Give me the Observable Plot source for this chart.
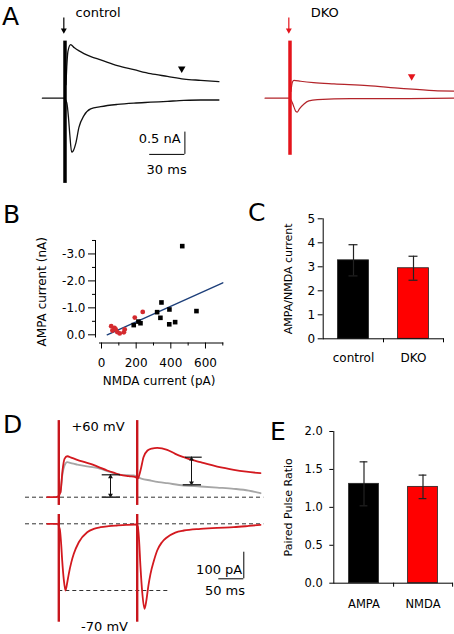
<!DOCTYPE html>
<html><head><meta charset="utf-8">
<script src="https://cdn.jsdelivr.net/npm/d3@7"></script>
<script src="https://cdn.jsdelivr.net/npm/@observablehq/plot@0.6"></script>
<style>
html,body{margin:0;padding:0;background:#fff;}
#fig{position:relative;width:454px;height:634px;overflow:hidden;background:#fff;font-family:"DejaVu Sans",sans-serif;color:#000;}
#fig svg{position:absolute;left:0;top:0;}
.panel{position:absolute;font-size:25px;line-height:1;color:#000;}
</style></head>
<body><div id="fig"></div>
<script>
// ================= DATA =================
// Panel letters
const panelLetters = ["A", "B", "C", "D", "E"];

// ---- Panel A (time in ms after stimulus, current in nA) ----
const aCtrlUpper = [[0.8,0.3],[1.5,0.7],[2.5,1.05],[4.8,1.2],[8,1.13],[12,1.06],[16.1,1.0],[22,0.93],[30.3,0.86],[44.5,0.73],[58.6,0.64],[72.8,0.55],[87,0.49],[101.1,0.43],[115.3,0.4],[130.8,0.37]];
const aCtrlLower = [[-19.2,0],[-10,0],[-1,0],[1.5,-0.1],[3,-0.45],[4,-0.79],[5.7,-1.21],[7,-1.18],[9.1,-1.02],[11.9,-0.65],[16.1,-0.39],[21.8,-0.24],[30.3,-0.19],[44.5,-0.14],[58.6,-0.11],[72.8,-0.09],[87,-0.07],[101.1,-0.05],[115.3,-0.04],[130.8,-0.04]];
const aDkoUpper = [[0.8,0.15],[2,0.36],[3.4,0.4],[9.1,0.38],[20,0.35],[37.4,0.32],[65.8,0.28],[94.1,0.22],[122.3,0.17],[139.3,0.16]];
const aDkoLower = [[-21.2,0],[-10,0],[-1,0],[2,-0.1],[3.4,-0.2],[5,-0.3],[6.2,-0.31],[8,-0.24],[11.9,-0.13],[16,-0.06],[23.3,-0.03],[51.6,-0.01],[94.1,-0.01],[139.3,0]];
const aStim = [{t: 0, top: 1.28, ctrlBottom: -1.91, dkoBottom: -1.28}];
const aArrow = [{t: -1, from: 1.8, to: 1.5}];
const aCtrlMarker = [{t: 99.2, i: 0.66}];
const aDkoMarker = [{t: 103.4, i: 0.49}];
const aScaleBar = [{t0: 72.0, t1: 101.9, i0: -0.76, i1: -1.26}];
const aLabels = [{t: 9.0, i: 1.83, s: "control"}];
const aDkoLabels = [{t: 17.6, i: 1.83, s: "DKO"}];
const aScaleAmp = [{t: 98.3, i: -1.01, s: "0.5 nA"}];
const aScaleTime = [{t: 86.4, i: -1.70, s: "30 ms"}];

// ---- Panel B (NMDA current pA, AMPA current nA) ----
const bControl = [[466,-3.29],[346,-1.2],[392,-0.94],[321,-0.84],[340,-0.63],[548,-0.88],[391,-0.39],[425,-0.47],[186,-0.36],[225,-0.43],[213,-0.49]];
const bDKO = [[238,-0.85],[192,-0.64],[56,-0.32],[75,-0.26],[63,-0.16],[91,-0.1],[129,-0.09],[134,-0.2],[82,-0.2],[105,-0.05]];
const bFit = [[33,0.0],[700,-1.93]];
const bYTicks = [0, -1, -2, -3];
const bYTickLabels = ["0.0", "-1.0", "-2.0", "-3.0"];
const bYMinor = [-0.5, -1.5, -2.5, -3.5];
const bXTicks = [0, 200, 400, 600];
const bXTickLabels = ["0", "200", "400", "600"];
const bXMinor = [100, 300, 500, 700];
const bXTitle = "NMDA current (pA)";
const bYTitle = "AMPA current (nA)";

// ---- Panel C (AMPA/NMDA ratio) ----
const cGroups = ["control", "DKO"];
const cMeans = [3.27, 2.94];
const cErrors = [0.65, 0.5];
const cColors = ["#000000", "#ff0000"];
const cYTicks = [0, 1, 2, 3, 4, 5];
const cYTitle = "AMPA/NMDA current";

// ---- Panel D (time in ms after first stimulus, current in pA) ----
const dRed = [[-23.2,0],[-6,0],[-2,2],[3.4,18.8],[7.4,100],[11.4,144],[16.8,154],[26,148],[36.8,140.6],[50,133],[63.4,125.6],[80,113],[96.8,100.4],[110,92],[123.4,84.2],[140,79],[153.4,75.2],[158,70],[163.4,100.4],[169.4,150],[177.4,175.6],[186,183],[196.8,185.7],[216.8,178.2],[233,163],[250,150.4],[266,140],[283.4,131.6],[300,123],[316.8,115.4],[333,109],[350,103],[375,96],[403.4,90.2]];
const dGray = [[3.4,18.8],[7.4,88],[11.4,119],[16.8,131.6],[26,127],[36.8,122.9],[60,115],[83.4,106.8],[100,96],[123.4,84.2],[150,81.6],[165,70],[183.4,62.8],[200,57],[216.8,52.6],[250,44],[283.4,40.2],[316.8,36],[350,31.6],[380,25],[403.4,15]];
const dLow = [[-23.2,0],[-3,0],[2,-20],[4.5,-70],[6.8,-138],[10,-210],[13.4,-250.8],[16.5,-225],[20,-188],[25,-145],[30,-112.8],[40,-69.2],[56.8,-31.6],[70,-19],[83.4,-12.8],[100,-9],[116.8,-6.4],[135,-4],[153.4,-2.6],[158,-10],[160.5,-60],[163.4,-163],[167,-260],[171.4,-319.5],[175,-290],[179,-235],[183.4,-188],[190,-140],[196.8,-100.4],[206,-70],[216.8,-50.4],[233,-33],[250,-25.2],[283.4,-18.8],[316.8,-15],[350,-12.8],[380,-8],[403.4,-3.8]];
const dStims = [0, 156.8];
const dStimTop = {top: 288, bottom: -31};
const dStimLow = {top: 35, bottom: -370};
const dBaseline = [{y: 0, t0: -66.6, t1: 410}];
const dPeakLine = [{y: -250.8, t0: 0, t1: 220}];
const dArrows = [
  {t: 103.4, lo: 0, hi: 84.2, c0: 86.8, c1: 123.4, b0: 86.8, b1: 123.4},
  {t: 265.4, lo: 46.6, hi: 150.4, c0: 253.4, c1: 286.8, b0: 248.8, b1: 285.4}
];
const dTopLabels = [{t: 78.4, i: 248, s: "+60 mV"}];
const dLowCentered = [{t: 91.4, i: -403.8, s: "-70 mV"}, {t: 332.4, i: -269.5, s: "50 ms"}];
const dLowRight = [{t: 366.8, i: -188, s: "100 pA"}];
const dScaleBar = [{t0: 320, t1: 370, i0: -106.8, i1: -206.8}];

// ---- Panel E (paired pulse ratio) ----
const eGroups = ["AMPA", "NMDA"];
const eMeans = [1.31, 1.27];
const eErrors = [0.29, 0.155];
const eColors = ["#000000", "#ff0000"];
const eYTicks = [0, 0.5, 1, 1.5, 2];
const eYTickLabels = ["0.0", "0.5", "1.0", "1.5", "2.0"];
const eYTitle = "Paired Pulse Ratio";

// ================= DRAWING =================
const fig = document.getElementById("fig");
const FONT = "DejaVu Sans";
const base = {width: 454, height: 634, style: {background: "transparent", fontFamily: FONT, overflow: "visible", color: "#000"}};
const mount = (svg) => fig.appendChild(svg);
const X = d => d[0], Y = d => d[1];

// Panel letters
const letterPos = [[2, 4], [3, 202], [248, 200], [3, 412], [270, 419]];
panelLetters.forEach((L, i) => {
  const div = document.createElement("div");
  div.className = "panel"; div.textContent = L;
  div.style.left = letterPos[i][0] + "px"; div.style.top = letterPos[i][1] + "px";
  fig.appendChild(div);
});

// ---- Panel A control ----
mount(Plot.plot({...base, margin: 0,
  x: {domain: [0, 30], range: [64.5, 99.8], axis: null},
  y: {domain: [0, 0.5], range: [97.7, 75.4], axis: null},
  marks: [
    Plot.line(aCtrlLower, {x: X, y: Y, stroke: "#111", strokeWidth: 1.3, curve: "monotone-x"}),
    Plot.line(aCtrlUpper, {x: X, y: Y, stroke: "#111", strokeWidth: 1.3, curve: "monotone-x"}),
    Plot.ruleX(aStim, {x: "t", y1: "top", y2: "ctrlBottom", stroke: "#000", strokeWidth: 3.5}),
    Plot.ruleX(aArrow, {x: "t", y1: "from", y2: "to", stroke: "#000", strokeWidth: 1.2}),
    Plot.dot(aArrow, {x: "t", y: "to", symbol: "triangle", rotate: 180, r: 2.2, fill: "#000", dy: -1}),
    Plot.dot(aCtrlMarker, {x: "t", y: "i", symbol: "triangle", rotate: 180, r: 2.8, fill: "#000"}),
    Plot.ruleX(aScaleBar, {x: "t1", y1: "i0", y2: "i1", stroke: "#000", strokeWidth: 1}),
    Plot.ruleY(aScaleBar, {y: "i1", x1: "t0", x2: "t1", stroke: "#000", strokeWidth: 1}),
    Plot.text(aLabels, {x: "t", y: "i", text: "s", textAnchor: "start", lineAnchor: "bottom", fontSize: 13, fill: "#000"}),
    Plot.text(aScaleAmp, {x: "t", y: "i", text: "s", textAnchor: "end", lineAnchor: "bottom", fontSize: 13, fill: "#000"}),
    Plot.text(aScaleTime, {x: "t", y: "i", text: "s", textAnchor: "middle", lineAnchor: "bottom", fontSize: 13, fill: "#000"})
  ]
}));

// ---- Panel A DKO ----
mount(Plot.plot({...base, margin: 0,
  x: {domain: [0, 30], range: [289.5, 324.8], axis: null},
  y: {domain: [0, 0.5], range: [97.7, 75.4], axis: null},
  marks: [
    Plot.line(aDkoLower, {x: X, y: Y, stroke: "#b3242a", strokeWidth: 1.2, curve: "monotone-x"}),
    Plot.line(aDkoUpper, {x: X, y: Y, stroke: "#b3242a", strokeWidth: 1.2, curve: "monotone-x"}),
    Plot.ruleX(aStim, {x: "t", y1: "top", y2: "dkoBottom", stroke: "#e4141c", strokeWidth: 3.5}),
    Plot.ruleX(aArrow, {x: "t", y1: "from", y2: "to", stroke: "#e4141c", strokeWidth: 1.2}),
    Plot.dot(aArrow, {x: "t", y: "to", symbol: "triangle", rotate: 180, r: 2.2, fill: "#e4141c", dy: -1}),
    Plot.dot(aDkoMarker, {x: "t", y: "i", symbol: "triangle", rotate: 180, r: 2.8, fill: "#e4141c"}),
    Plot.text(aDkoLabels, {x: "t", y: "i", text: "s", textAnchor: "start", lineAnchor: "bottom", fontSize: 13, fill: "#000"})
  ]
}));

// ---- Panel B ----
const fmtB = d => bYTickLabels[bYTicks.indexOf(d)];
const fmtBx = d => bXTickLabels[bXTicks.indexOf(d)];
mount(Plot.plot({...base,
  marginLeft: 95, marginTop: 240, marginRight: 231.7, marginBottom: 291.5,
  x: {domain: [0, 700], range: [101, 222.3]},
  y: {domain: [0, -3], range: [334.3, 253.45]},
  marks: [
    Plot.frame({anchor: "left", insetBottom: 6, stroke: "#000"}),
    Plot.frame({anchor: "bottom", insetLeft: 4, stroke: "#000"}),
    Plot.axisY(bYTicks, {tickSize: 7, tickPadding: 3, tickFormat: fmtB, fontSize: 12, label: null}),
    Plot.axisY(bYMinor, {tickSize: 3, tickFormat: () => "", label: null}),
    Plot.axisX(bXTicks, {tickSize: 6, tickPadding: 9, tickFormat: fmtBx, fontSize: 12, label: null}),
    Plot.axisX(bXMinor, {tickSize: 3, tickFormat: () => "", label: null}),
    Plot.line(bFit, {x: X, y: Y, stroke: "#1d3f7a", strokeWidth: 1.4}),
    Plot.dot(bDKO, {x: X, y: Y, r: 2.4, fill: "#d42a2e", stroke: "none"}),
    Plot.dot(bControl, {x: X, y: Y, symbol: "square", r: 2.6, fill: "#000", stroke: "none"}),
    Plot.text([bXTitle], {frameAnchor: "bottom", dy: 42, lineAnchor: "bottom", fontSize: 12, fill: "#000"}),
    Plot.text([bYTitle], {frameAnchor: "left", textAnchor: "middle", rotate: -90, dx: -53, fontSize: 12, fill: "#000"})
  ]
}));

// ---- Panel C ----
const cData = cGroups.map((g, i) => ({g, m: cMeans[i], e: cErrors[i], c: cColors[i]}));
mount(Plot.plot({...base,
  marginLeft: 322.7, marginTop: 218.3, marginRight: 11.3, marginBottom: 295.7,
  x: {type: "band", domain: cGroups, range: [322.7, 442.7], padding: 0},
  y: {domain: [0, 5], range: [338.3, 218.3]},
  marks: [
    Plot.barY(cData, {x: "g", y: "m", fill: "c", stroke: "#222", strokeWidth: 0.8, insetLeft: 14.5, insetRight: 14.5}),
    Plot.ruleX(cData, {x: "g", y1: d => d.m - d.e, y2: d => d.m + d.e, stroke: "#222", strokeWidth: 1.2}),
    Plot.tickY(cData, {x: "g", y: d => d.m + d.e, insetLeft: 25.5, insetRight: 25.5, stroke: "#222", strokeWidth: 1.2}),
    Plot.tickY(cData, {x: "g", y: d => d.m - d.e, insetLeft: 25.5, insetRight: 25.5, stroke: "#222", strokeWidth: 1.2}),
    Plot.frame({anchor: "left", stroke: "#000"}),
    Plot.frame({anchor: "bottom", stroke: "#000"}),
    Plot.axisY(cYTicks, {tickSize: 5, tickPadding: 3, fontSize: 12, label: null}),
    Plot.axisX({tickSize: 4, dx: 30, tickFormat: () => "", label: null}),
    Plot.axisX({tickSize: 0, tickPadding: 15, fontSize: 12, label: null}),
    Plot.text([cYTitle], {frameAnchor: "left", textAnchor: "middle", rotate: -90, dx: -35, fontSize: 11, fill: "#000"})
  ]
}));

// ---- Panel D top (+60 mV) ----
mount(Plot.plot({...base, margin: 0,
  x: {domain: [0, 50], range: [58.3, 83.3], axis: null},
  y: {domain: [0, 100], range: [496.7, 470.1], axis: null},
  marks: [
    Plot.ruleY(dBaseline, {y: "y", x1: "t0", x2: "t1", stroke: "#333", strokeWidth: 1, strokeDasharray: "4,3"}),
    Plot.line(dGray, {x: X, y: Y, stroke: "#a6a6a6", strokeWidth: 1.8, curve: "monotone-x"}),
    Plot.line(dRed, {x: X, y: Y, stroke: "#d3191f", strokeWidth: 1.8, curve: "monotone-x"}),
    Plot.ruleX(dStims, {x: d => d, y1: dStimTop.top, y2: dStimTop.bottom, stroke: "#c8161d", strokeWidth: 2.4}),
    Plot.ruleX(dArrows, {x: "t", y1: "lo", y2: "hi", stroke: "#111", strokeWidth: 1}),
    Plot.dot(dArrows, {x: "t", y: "hi", symbol: "triangle", r: 1.8, fill: "#111", dy: 2}),
    Plot.dot(dArrows, {x: "t", y: "lo", symbol: "triangle", rotate: 180, r: 1.8, fill: "#111", dy: -2}),
    Plot.ruleY(dArrows, {y: "hi", x1: "c0", x2: "c1", stroke: "#111", strokeWidth: 1.2}),
    Plot.ruleY(dArrows, {y: "lo", x1: "b0", x2: "b1", stroke: "#333", strokeWidth: 1.6}),
    Plot.text(dTopLabels, {x: "t", y: "i", text: "s", textAnchor: "middle", lineAnchor: "bottom", fontSize: 13, fill: "#000"})
  ]
}));

// ---- Panel D bottom (-70 mV) ----
mount(Plot.plot({...base, margin: 0,
  x: {domain: [0, 50], range: [58.3, 83.3], axis: null},
  y: {domain: [0, 100], range: [523.3, 496.7], axis: null},
  marks: [
    Plot.ruleY(dBaseline, {y: "y", x1: "t0", x2: "t1", stroke: "#333", strokeWidth: 1, strokeDasharray: "4,3"}),
    Plot.ruleY(dPeakLine, {y: "y", x1: "t0", x2: "t1", stroke: "#333", strokeWidth: 1, strokeDasharray: "4,3"}),
    Plot.line(dLow, {x: X, y: Y, stroke: "#d3191f", strokeWidth: 1.8, curve: "monotone-x"}),
    Plot.ruleX(dStims, {x: d => d, y1: dStimLow.top, y2: dStimLow.bottom, stroke: "#c8161d", strokeWidth: 2.4}),
    Plot.ruleX(dScaleBar, {x: "t1", y1: "i0", y2: "i1", stroke: "#000", strokeWidth: 1}),
    Plot.ruleY(dScaleBar, {y: "i1", x1: "t0", x2: "t1", stroke: "#000", strokeWidth: 1}),
    Plot.text(dLowCentered, {x: "t", y: "i", text: "s", textAnchor: "middle", lineAnchor: "bottom", fontSize: 13, fill: "#000"}),
    Plot.text(dLowRight, {x: "t", y: "i", text: "s", textAnchor: "end", lineAnchor: "bottom", fontSize: 13, fill: "#000"})
  ]
}));

// ---- Panel E ----
const eData = eGroups.map((g, i) => ({g, m: eMeans[i], e: eErrors[i], c: eColors[i]}));
const fmtE = d => eYTickLabels[eYTicks.indexOf(d)];
mount(Plot.plot({...base,
  marginLeft: 333.3, marginTop: 431, marginRight: 2.3, marginBottom: 51.3,
  x: {type: "band", domain: eGroups, range: [333.3, 451.7], padding: 0},
  y: {domain: [0, 2], range: [582.7, 431]},
  marks: [
    Plot.barY(eData, {x: "g", y: "m", fill: "c", stroke: "#222", strokeWidth: 0.8, insetLeft: 14.6, insetRight: 14.6}),
    Plot.ruleX(eData, {x: "g", y1: d => d.m - d.e, y2: d => d.m + d.e, stroke: "#222", strokeWidth: 1.2}),
    Plot.tickY(eData, {x: "g", y: d => d.m + d.e, insetLeft: 25.6, insetRight: 25.6, stroke: "#222", strokeWidth: 1.2}),
    Plot.tickY(eData, {x: "g", y: d => d.m - d.e, insetLeft: 25.6, insetRight: 25.6, stroke: "#222", strokeWidth: 1.2}),
    Plot.frame({anchor: "left", stroke: "#000"}),
    Plot.frame({anchor: "bottom", stroke: "#000"}),
    Plot.axisY(eYTicks, {tickSize: 4, tickPadding: 7, tickFormat: fmtE, fontSize: 11.5, label: null}),
    Plot.axisX({tickSize: 4, dx: 29.6, tickFormat: () => "", label: null}),
    Plot.axisX({tickSize: 0, tickPadding: 17, fontSize: 11.5, label: null}),
    Plot.text([eYTitle], {frameAnchor: "left", textAnchor: "middle", rotate: -90, dx: -45, fontSize: 11, fill: "#000"})
  ]
}));
</script>
</body></html>
